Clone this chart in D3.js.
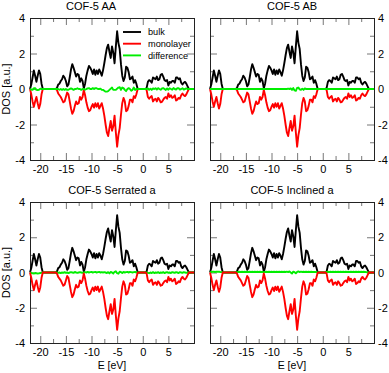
<!DOCTYPE html>
<html>
<head>
<meta charset="utf-8">
<script src="https://cdn.jsdelivr.net/npm/d3@7"></script>
<style>
  body { margin: 0; background: #fff; }
  text { font-family: "Liberation Sans", Arial, Helvetica, sans-serif; }
</style>
</head>
<body>
<svg id="chart" width="389" height="373"></svg>
<script>
// energy grid, -22 .. 10 eV in 0.25 eV steps
var energies = d3.range(-22, 10.001, 0.25);

var titles = ["COF-5 AA", "COF-5 AB", "COF-5 Serrated a", "COF-5 Inclined a"];
var seriesNames = ["bulk", "monolayer", "difference"];
var xTicks = [-20, -15, -10, -5, 0, 5];
var xMinor = [-17.5, -12.5, -7.5, -2.5, 2.5, 7.5];
var yTicks = [-4, -2, 0, 2, 4];
var yMinor = [-3, -1, 1, 3];

var bulk = [0,0.25,0.65,1.05,0.75,0.4,0.75,1.05,0.85,0.3,
  0,0,0,0,0,0,0,0,0,0,0,
  0.05,0.25,0.3,0.45,0.55,0.75,0.65,0.45,0.15,0.25,
  0.65,1.1,1.4,1.2,0.95,0.7,0.85,0.8,0.4,0.6,
  0.45,0.05,0.3,0.75,1.05,1.3,1.2,1.05,0.85,1.1,
  0.8,1.05,0.85,1.1,0.95,0.75,1.05,1.45,1.9,2.3,
  2.5,2.1,1.75,2.4,2.05,1.45,2.4,3.25,2.6,2.25,
  1.4,0.75,0.45,0.65,1.25,1.2,0.95,0.55,0.6,0.7,
  0.35,0.5,0.3,0.02,0,0,0,0,0,0,
  0.05,0.4,0.5,0.45,0.35,0.65,0.6,0.55,0.7,0.5,
  0.55,0.8,0.85,0.7,0.5,0.45,0.5,0.2,0.4,0.35,
  0.45,0.45,0.35,0.65,0.65,0.55,0.6,0.35,0.25,0.35,
  0.4,0.3,0.15,0,0,0,0,0];

var monolayer = [0,-0.3,-0.7,-1.0,-0.7,-0.45,-0.8,-1.1,-0.85,-0.3,
  0,0,0,0,0,0,0,0,0,0,0,
  -0.05,-0.25,-0.35,-0.45,-0.6,-0.75,-0.7,-0.45,-0.2,-0.3,
  -0.7,-1.1,-1.4,-1.25,-0.95,-0.7,-0.85,-0.8,-0.45,-0.6,
  -0.45,-0.05,-0.35,-0.75,-1.05,-1.25,-1.2,-1.0,-0.85,-1.05,
  -0.8,-1.0,-0.8,-1.1,-0.95,-0.8,-1.1,-1.5,-2.0,-2.45,
  -2.65,-2.2,-1.8,-2.35,-2.1,-1.5,-2.45,-3.25,-2.6,-2.2,
  -1.45,-0.8,-0.5,-0.7,-1.25,-1.2,-0.95,-0.6,-0.6,-0.75,
  -0.4,-0.5,-0.3,-0.02,0,0,0,0,0,0,
  -0.05,-0.45,-0.55,-0.45,-0.4,-0.7,-0.6,-0.55,-0.7,-0.5,
  -0.6,-0.75,-0.72,-0.6,-0.5,-0.45,-0.55,-0.25,-0.45,-0.35,
  -0.5,-0.45,-0.35,-0.65,-0.6,-0.5,-0.55,-0.35,-0.25,-0.35,
  -0.4,-0.3,-0.15,0,0,0,0,0];

var diffAA = [0,-0.03,-0.05,0.04,0.05,-0.05,-0.06,-0.04,0.02,0,
  0,0,0,0,0,0,0,0,0,0,0,
  0,0,-0.04,0,-0.05,0,-0.05,0,-0.05,-0.04,
  0,0.03,0,-0.05,0,0,0.04,0,0,-0.05,
  0,0,-0.04,0,0.03,0.05,0,0,0.05,0,
  0.05,0.04,0,0,0.02,-0.05,-0.05,-0.1,-0.15,-0.15,
  -0.12,-0.05,0.02,0.08,-0.05,-0.05,-0.05,0.02,0.08,0.1,
  -0.05,0.08,0.05,-0.05,-0.12,0,0.05,0,-0.1,-0.05,
  0.08,-0.05,0,0,0,0,0,0,0,0,
  0,0.03,-0.04,0.02,-0.05,0.03,0,0.04,-0.03,0.05,
  0,-0.04,0.03,0.05,0,-0.05,0.03,-0.04,0.04,0,
  -0.04,0.05,0,-0.03,0.04,0.05,-0.03,0,0.04,-0.03,
  0,0.03,0,0,0,0,0,0];

var diffAB = [0,0,0,0,0,0,0,0,0,0,
  0,0,0,0,0,0,0,0,0,0,0,
  0,0,0,0,0,0,0,0,0,0,
  0,0,0,0,0,0,0,0,0,0,
  0,0,0,0,0,0,0,0,0,0,
  0,0,0,0,0,0,0,0,0,0,
  0.02,0,0.03,-0.05,0.05,-0.08,-0.1,0.06,0.08,-0.02,
  -0.05,0.02,-0.05,0.03,0,0,0,0,0,0,
  0,0,0,0,0,0,0,0,0,0,
  0,0,0,0,0,0,0,0,0,0,
  0,0,0,0,0,0,0,0,0,0,
  0,0,0,0,0,0,0,0,0,0,
  0,0,0,0,0,0,0,0];

var diffSerrated = [0,-0.03,-0.05,-0.06,-0.03,-0.05,-0.06,-0.05,-0.03,-0.02,
  0,0,0,0,0,0,0,0,0,0,0,
  0,-0.02,0,-0.03,0,-0.02,0.02,-0.02,0,-0.03,
  0,0.02,0,-0.02,0.03,0,-0.02,0,0.02,0,
  -0.02,0,0.02,0,0.03,0,0.02,0.03,0,0.02,
  0.03,0,0.02,0.03,0,0.02,0,0.02,0,-0.03,
  0.02,-0.05,0.03,0,-0.06,0.04,0.07,-0.04,-0.07,0.05,
  0.02,-0.03,0.03,0,0.02,0.03,0,0.03,0.02,0,
  0.02,0.03,0,0,0,0,0,0,0,0,
  0,-0.02,-0.04,0,-0.03,0.02,-0.03,0,-0.02,0.02,
  -0.03,0,-0.02,0.02,-0.03,0,0.02,-0.02,0,-0.03,
  0.02,0,-0.02,0.02,0,-0.03,0.02,0,-0.02,0.02,
  0,-0.02,0,0,0,0,0,0];

var diffInclined = [0,0.03,0.05,0.04,0.03,0.05,0.04,0.05,0.03,0.02,
  0,0,0,0,0,0,0,0,0,0,0,
  0.02,0.03,0.04,0.03,0.04,0.03,0.04,0.03,0.04,0.03,
  0.04,0.03,0.04,0.03,0.04,0.03,0.04,0.03,0.04,0.03,
  0.03,0.02,0.03,0.04,0.03,0.04,0.03,0.04,0.03,0.04,
  0.03,0.04,0.03,0.04,0.03,0.04,0.03,0.04,0.03,0.05,
  0.02,0.06,0,-0.06,0.05,0.02,-0.04,0.03,0.06,0.02,
  0.05,0.03,0.04,0.03,0.04,0.03,0.04,0.03,0.04,0.03,
  0.03,0.03,0.02,0,0,0,0,0,0,0,
  0.03,0.04,0.03,0.04,0.03,0.04,0.03,0.04,0.03,0.04,
  0.03,0.04,0.03,0.04,0.03,0.04,0.03,0.04,0.03,0.04,
  0.03,0.04,0.03,0.04,0.03,0.04,0.03,0.04,0.03,0.04,
  0.03,0.02,0,0,0,0,0,0];

var colors = {bulk: "#000000", monolayer: "#ff0000", difference: "#00ee00"};

// layout of the 2x2 grid
var cols = [[30, 194], [210, 374]],
    rows = [[160, 18], [343, 202]];

var panels = [
  {title: titles[0], diff: diffAA, col: 0, row: 0, titleX: 91, order: ["bulk", "monolayer", "difference"], legend: true},
  {title: titles[1], diff: diffAB, col: 1, row: 0, titleX: 292, order: ["bulk", "monolayer", "difference"]},
  {title: titles[2], diff: diffSerrated, col: 0, row: 1, titleX: 112, order: ["bulk", "difference", "monolayer"]},
  {title: titles[3], diff: diffInclined, col: 1, row: 1, titleX: 292, order: ["bulk", "difference", "monolayer"]}
];

var svg = d3.select("#chart");
var fmt = function(d) { return String(d); };

function styleAxis(sel) {
  sel.select(".domain").remove();
  sel.selectAll(".tick line").attr("stroke", "#777");
  sel.selectAll(".tick text").attr("fill", "#000").attr("font-size", 11)
    .attr("font-family", "'Liberation Sans', Arial, sans-serif");
}

panels.forEach(function(p) {
  var x = d3.scaleLinear().domain([-22, 10]).range(cols[p.col]);
  var y = d3.scaleLinear().domain([-4, 4]).range(rows[p.row]);
  var g = svg.append("g");

  // major + minor ticks, all pointing inward
  g.append("g").attr("transform", "translate(0," + y(-4) + ")")
    .call(d3.axisBottom(x).tickValues(xTicks).tickSizeInner(-7).tickSizeOuter(0).tickPadding(5).tickFormat(fmt))
    .call(styleAxis);
  g.append("g").attr("transform", "translate(0," + y(-4) + ")")
    .call(d3.axisBottom(x).tickValues(xMinor).tickSizeInner(-4).tickSizeOuter(0).tickFormat(""))
    .call(styleAxis);
  g.append("g").attr("transform", "translate(0," + y(4) + ")")
    .call(d3.axisTop(x).tickValues(xTicks).tickSizeInner(-7).tickSizeOuter(0).tickFormat(""))
    .call(styleAxis);
  g.append("g").attr("transform", "translate(0," + y(4) + ")")
    .call(d3.axisTop(x).tickValues(xMinor).tickSizeInner(-4).tickSizeOuter(0).tickFormat(""))
    .call(styleAxis);

  g.append("g").attr("transform", "translate(" + x(-22) + ",0)")
    .call(d3.axisLeft(y).tickValues(yTicks).tickSizeInner(-7).tickSizeOuter(0).tickPadding(5)
      .tickFormat(p.col === 0 ? fmt : ""))
    .call(styleAxis);
  g.append("g").attr("transform", "translate(" + x(-22) + ",0)")
    .call(d3.axisLeft(y).tickValues(yMinor).tickSizeInner(-4).tickSizeOuter(0).tickFormat(""))
    .call(styleAxis);
  g.append("g").attr("transform", "translate(" + x(10) + ",0)")
    .call(d3.axisRight(y).tickValues(yTicks).tickSizeInner(-7).tickSizeOuter(0).tickPadding(4)
      .tickFormat(p.col === 1 ? fmt : ""))
    .call(styleAxis);
  g.append("g").attr("transform", "translate(" + x(10) + ",0)")
    .call(d3.axisRight(y).tickValues(yMinor).tickSizeInner(-4).tickSizeOuter(0).tickFormat(""))
    .call(styleAxis);

  // frame
  g.append("rect")
    .attr("x", x(-22) + 0.5).attr("y", y(4) + 0.5)
    .attr("width", x(10) - x(-22)).attr("height", y(-4) - y(4))
    .attr("fill", "none").attr("stroke", "#222").attr("stroke-width", 1);

  var line = d3.line()
    .x(function(d, i) { return x(energies[i]); })
    .y(function(d) { return y(d); });

  var values = {bulk: bulk, monolayer: monolayer, difference: p.diff};
  p.order.forEach(function(key) {
    g.append("path")
      .datum(values[key])
      .attr("d", line)
      .attr("fill", "none")
      .attr("stroke", colors[key])
      .attr("stroke-width", 1.9)
      .attr("stroke-linejoin", "round");
  });

  // title
  g.append("text")
    .attr("x", p.titleX).attr("y", rows[p.row][1] - 8.5)
    .attr("text-anchor", "middle").attr("font-size", 11)
    .text(p.title);

  if (p.col === 0) {
    g.append("text")
      .attr("transform", "translate(9.5," + (y(0)) + ") rotate(-90)")
      .attr("text-anchor", "middle").attr("font-size", 11)
      .text("DOS [a.u.]");
  }
  if (p.row === 1) {
    g.append("text")
      .attr("x", (cols[p.col][0] + cols[p.col][1]) / 2).attr("y", 369)
      .attr("text-anchor", "middle").attr("font-size", 10.5)
      .text("E [eV]");
  }

  if (p.legend) {
    var lg = g.selectAll(".legend")
      .data(seriesNames)
      .enter().append("g")
      .attr("class", "legend")
      .attr("transform", function(d, i) { return "translate(123," + (32 + i * 11.7) + ")"; });
    lg.append("line")
      .attr("x1", 0).attr("x2", 18)
      .attr("stroke", function(d) { return colors[d]; })
      .attr("stroke-width", 1.9);
    lg.append("text")
      .attr("x", 25).attr("dy", "0.35em")
      .attr("font-size", 9.2)
      .text(function(d) { return d; });
  }
});
</script>
</body>
</html>
